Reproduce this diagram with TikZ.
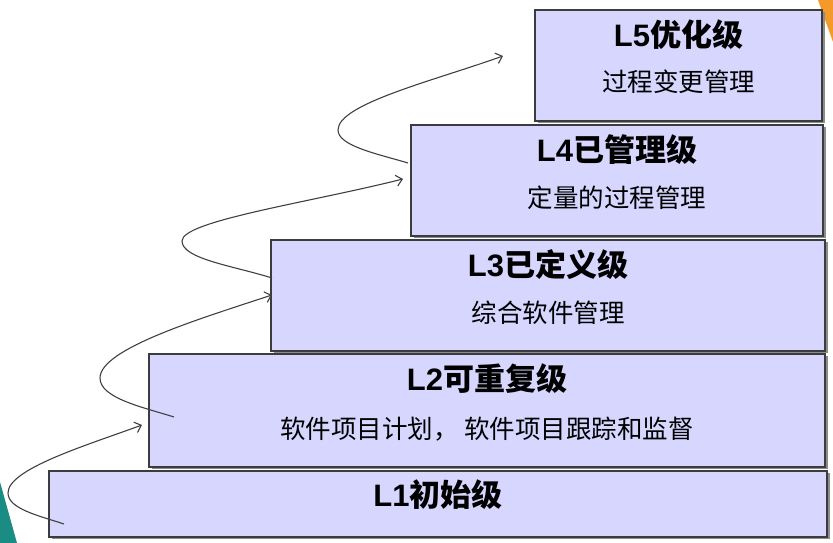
\documentclass[tikz,border=0pt]{standalone}
\usepackage{fontspec}
\setmainfont{Liberation Sans}
\newfontfamily\cjk{Noto Sans CJK SC}
\usetikzlibrary{arrows.meta,shadows}

\definecolor{boxfill}{HTML}{D6D6FF}
\definecolor{boxline}{HTML}{3C3C3C}
\definecolor{cornerorange}{HTML}{F39A2B}
\definecolor{cornerteal}{HTML}{1B8C83}
\definecolor{flowline}{HTML}{404040}

\tikzset{
  levelbox/.style={draw=boxline, line width=1.2pt, fill=boxfill, anchor=north west,
    inner sep=0pt, outer sep=0pt,
    drop shadow={shadow xshift=2.5pt, shadow yshift=-2.5pt, fill=black!45, opacity=1}},
  leveltitle/.style={inner sep=0pt, font=\fontsize{31}{36}\selectfont\bfseries},
  levelnote/.style={inner sep=0pt, font=\fontsize{25.5}{30}\selectfont\cjk},
  flow/.style={draw=flowline, line width=1.1pt, -{Straight Barb[length=6pt,width=11pt]}}
}

\begin{document}
\begin{tikzpicture}[x=1pt,y=1pt]
\useasboundingbox (0,0) rectangle (833,543);

% corner accents
\fill[cornerorange] (818,543) -- (833,543) -- (833,501) -- cycle;
\fill[cornerteal] (0,61) -- (17,0) -- (0,0) -- cycle;

% the five maturity levels, stacked as steps
\node[levelbox, minimum width=778pt, minimum height=66pt] (l1) at (49,72) {};
\node[levelbox, minimum width=676pt, minimum height=113pt] (l2) at (149,189) {};
\node[levelbox, minimum width=554pt, minimum height=111pt] (l3) at (271,303) {};
\node[levelbox, minimum width=412pt, minimum height=111pt] (l4) at (411,418) {};
\node[levelbox, minimum width=287pt, minimum height=111pt] (l5) at (535,533) {};

% level names and key process areas
\node[leveltitle] (t1) at ([yshift=-24pt]l1.north) {L1{\cjk 初始级}};
\node[leveltitle] (t2) at ([yshift=-25pt]l2.north) {L2{\cjk 可重复级}};
\node[levelnote]  (n2) at ([yshift=-75pt]l2.north) {软件项目计划， 软件项目跟踪和监督};
\node[leveltitle] (t3) at ([yshift=-25pt]l3.north) {L3{\cjk 已定义级}};
\node[levelnote]  (n3) at ([yshift=-73pt]l3.north) {综合软件管理};
\node[leveltitle] (t4) at ([yshift=-25pt]l4.north) {L4{\cjk 已管理级}};
\node[levelnote]  (n4) at ([yshift=-73pt]l4.north) {定量的过程管理};
\node[leveltitle] (t5) at ([yshift=-25pt]l5.north) {L5{\cjk 优化级}};
\node[levelnote]  (n5) at ([yshift=-72pt]l5.north) {过程变更管理};

% end points of the upward loops
\coordinate (s1) at (64,19);
\coordinate (e1) at (142,118);
\coordinate (s2) at (174,126);
\coordinate (e2) at (272,248);
\coordinate (s3) at (272,265);
\coordinate (e3) at (403,364);
\coordinate (s4) at (408,380);
\coordinate (e4) at (503,487);

% loops leading from each level up to the next
\draw[flow] (s1) .. controls (40,27) and (8,34) .. (8,50)
                 .. controls (8,74) and (86,97.5) .. (e1);
\draw[flow] (s2) .. controls (142,136) and (100,145) .. (100,165)
                 .. controls (100,194) and (199,224) .. (e2);
\draw[flow] (s3) .. controls (234,277) and (182,284) .. (182,302)
                 .. controls (182,322) and (307,340) .. (e3);
\draw[flow] (s4) .. controls (378,389) and (338,397) .. (338,413)
                 .. controls (338,439) and (433,462) .. (e4);
\end{tikzpicture}
\end{document}
